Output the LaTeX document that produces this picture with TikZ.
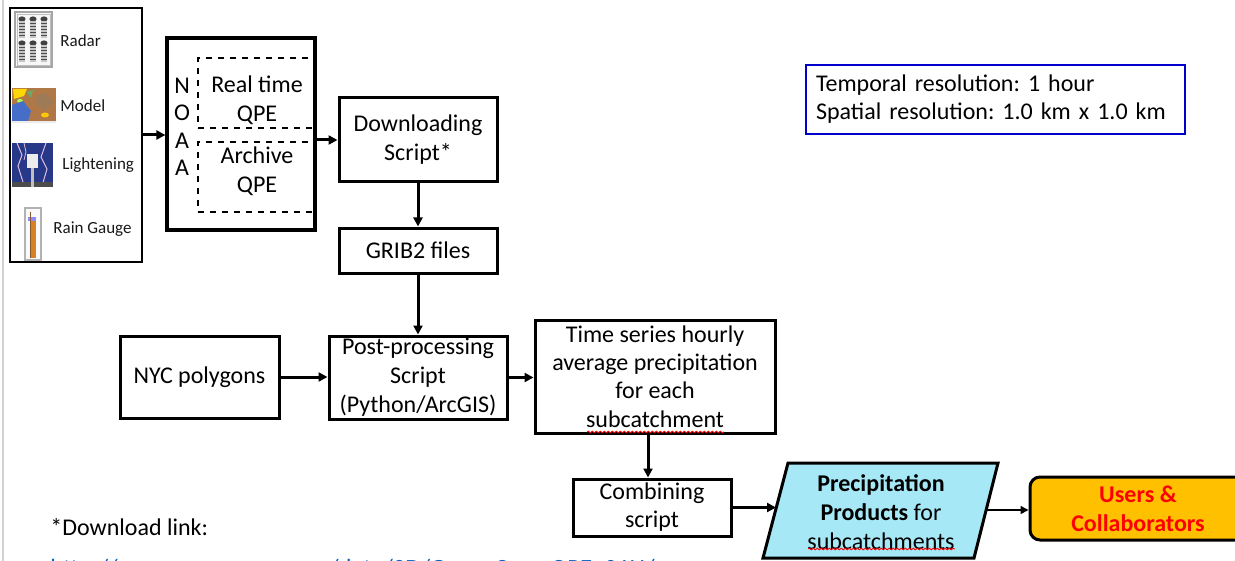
\documentclass[tikz,border=0pt]{standalone}
\usepackage{fontspec}
\setmainfont{Carlito}
\frenchspacing
\usetikzlibrary{arrows.meta,decorations.pathmorphing}
\definecolor{prodblue}{RGB}{166,232,246}
\definecolor{usersorange}{RGB}{255,192,0}
\definecolor{notebl}{RGB}{0,0,204}
\definecolor{linkbl}{RGB}{5,99,193}
\definecolor{ltgblue}{RGB}{38,56,135}
\definecolor{mapbrown}{RGB}{176,120,70}
\definecolor{mapsea}{RGB}{70,110,200}
\begin{document}
\begin{tikzpicture}[x=0.5pt,y=-0.5pt,
  sz/.style 2 args={minimum width=#1*0.5pt,minimum height=#2*0.5pt},
  box/.style={draw,line width=1.5pt,inner sep=0pt,align=center,
    font=\fontsize{12}{14.5}\selectfont},
  txt/.style={inner sep=0pt,align=center,font=\fontsize{12}{14.5}\selectfont},
  dbox/.style={draw,dashed,line width=0.6pt,inner sep=0pt},
  lbl/.style={inner sep=0pt,anchor=west,font=\fontsize{8.5}{10}\selectfont,text=black!90},
  arr/.style={line width=1.5pt,-{Triangle[length=4.5pt,width=4.5pt]}},
  thinarr/.style={line width=0.8pt,-{Triangle[length=4pt,width=4pt]}},
  squiggle/.style={red,line width=0.4pt,decorate,
    decoration={snake,amplitude=0.45pt,segment length=2pt}}]
\useasboundingbox (0,0) rectangle (1235,561);
\clip (0,0) rectangle (1235,561);
\fill[white] (0,0) rectangle (1235,561);
\draw[gray!35,line width=0.6pt] (3,0) -- (3,561);

% ---------- sources box ----------
\node[box,sz={132}{254},line width=1pt] (src) at (76,135) {};
% radar icon
\draw[gray!70,fill=gray!6,line width=0.6pt] (15,12) rectangle (52,67);
\draw[gray!50,line width=0.4pt] (17,14) rectangle (50,65);
\foreach \cx in {22,33,44}{
  \foreach \cy in {16,40}{
    \fill[black!75] (\cx,\cy+3) ellipse [x radius=3.6, y radius=2.6];
    \fill[gray!45] (\cx-2.6,\cy+5) rectangle (\cx+2.6,\cy+22);
    \foreach \k in {0,...,4}{
      \draw[black!70,line width=0.45pt] (\cx-2.6,\cy+7+3*\k) -- (\cx+2.6,\cy+7+3*\k);}
  }}
\node[lbl] (radar) at (60,41) {Radar};
% model icon
\fill[mapbrown] (12,88) rectangle (56,123);
\fill[yellow!75!orange] (13,89) -- (27,89) -- (24,96) -- (14,99) -- cycle;
\fill[green!45!black!60] (27,92) -- (33,90) -- (31,98) -- cycle;
\fill[brown!70!black!80] (35,96) -- (47,93) -- (53,103) -- (44,111) -- (37,105) -- cycle;
\fill[yellow!60!orange] (45,115) ellipse [x radius=4, y radius=2.5];
\fill[green!50!yellow!70] (20,101) ellipse [x radius=3, y radius=2];
\fill[mapsea] (12,105) -- (23,101) -- (31,111) -- (28,121) -- (12,121) -- cycle;
\fill[gray!15] (12,121) rectangle (56,123);
\node[lbl] (model) at (60,106) {Model};
% lightening icon
\fill[ltgblue] (12,143) rectangle (53,187);
\draw[violet!25!white,line width=0.5pt] (17,143) -- (22,155) -- (18,166) -- (23,182);
\draw[violet!25!white,line width=0.5pt] (46,143) -- (41,157) -- (47,169) -- (42,186);
\draw[violet!25!white,line width=0.4pt] (24,143) -- (26,152) -- (24,160);
\fill[black!70] (12,182) rectangle (53,187);
\fill[gray!50] (31,168) rectangle (34,187);
\fill[gray!15] (27,154) rectangle (38,168);
\node[lbl] (light) at (62,165) {Lightening};
% rain gauge icon
\draw[gray!60,fill=gray!4,line width=0.6pt] (25,208) rectangle (41,260);
\fill[brown!65!orange] (30,221) rectangle (36,258);
\fill[blue!45] (28,217) rectangle (36,221);
\draw[brown!70!black,line width=0.5pt] (30,212) -- (30,258);
\node[lbl] (gauge) at (53,229) {Rain Gauge};

% ---------- NOAA box ----------
\node[dbox,sz={116}{70}] (rtbox) at (256,93) {};
\node[dbox,sz={116}{70}] (arbox) at (256,177) {};
\node[box,sz={148}{192},line width=1.6pt] (noaa) at (241,134) {};
\node[txt] (rt) at (257,100.5) {Real time\\QPE};
\node[txt] (ar) at (257,171) {Archive\\QPE};
\node[txt,font=\fontsize{12}{13.7}\selectfont] (letters) at (182,127) {N\\O\\A\\A};

% ---------- process boxes ----------
\node[box,sz={158}{84}] (dl) at (418,140) {Downloading\\Script*};
\node[box,sz={158}{45}] (grib) at (418,250.5) {GRIB2 files};
\node[box,sz={178}{83}] (post) at (418,377.5) {Post-processing\\Script\\(Python/ArcGIS)};
\node[box,sz={159}{82}] (nyc) at (199.5,377) {NYC polygons};
\node[box,sz={240}{113},font=\fontsize{12}{14.2}\selectfont] (ts) at (655,376.5)
  {Time series hourly\\average precipitation\\for each\\subcatchment};
\node[box,sz={158}{57},font=\fontsize{12}{14}\selectfont] (comb) at (652,507.5) {Combining\\script};

% ---------- products parallelogram ----------
\draw[line width=1.5pt,fill=prodblue] (788,463) -- (998,463) -- (974,558) -- (763,558) -- cycle;
\node[txt] (prod) at (881,512.5) {\textbf{Precipitation}\\\textbf{Products} for\\subcatchments};
\coordinate (prodL) at (776,507.5);
\coordinate (prodR) at (986,510);

% ---------- users ----------
\node[box,sz={216}{63},rounded corners=5pt,fill=usersorange,text=red] (users) at (1138,508.5)
  {\textbf{Users \&}\\\textbf{Collaborators}};

% ---------- note ----------
\node[draw=notebl,line width=1.2pt,inner sep=5pt,text width=179.5pt,align=left,
  minimum height=33.5pt,font=\fontsize{12}{14}\selectfont] (note) at (995.5,99.5)
  {Temporal resolution: 1 hour\\Spatial resolution: 1.0 km x 1.0 km};

% ---------- download link ----------
\node[inner sep=0pt,anchor=base west,font=\fontsize{12}{14.5}\selectfont] (dlink) at (50,535) {*Download link:};
\node[inner sep=0pt,anchor=base west,font=\fontsize{12.4}{14.5}\selectfont,text=linkbl] (url) at (50,576)
  {http://mrms.ncep.noaa.gov/data/2D/GaugeCorr\_QPE\_01H/};

% ---------- spelling squiggles ----------
\draw[squiggle] (587,432) -- (724,432);
\draw[squiggle] (808,549) -- (955,549);

% ---------- connectors ----------
\draw[arr] (src.east) -- (src.east -| noaa.west);
\draw[arr] (dl.west -| noaa.east) -- (dl.west);
\draw[arr] (dl.south) -- (grib.north);
\draw[arr] (grib.south) -- (post.north);
\draw[arr] (nyc.east) -- (nyc.east -| post.west);
\draw[arr] (post.east) -- (post.east -| ts.west);
\coordinate (tsx) at (648,0);
\draw[arr] (ts.south -| tsx) -- (comb.north -| tsx);
\draw[arr] (comb.east) -- (prodL);
\draw[thinarr] (prodR) -- (prodR -| users.west);
\end{tikzpicture}
\end{document}
